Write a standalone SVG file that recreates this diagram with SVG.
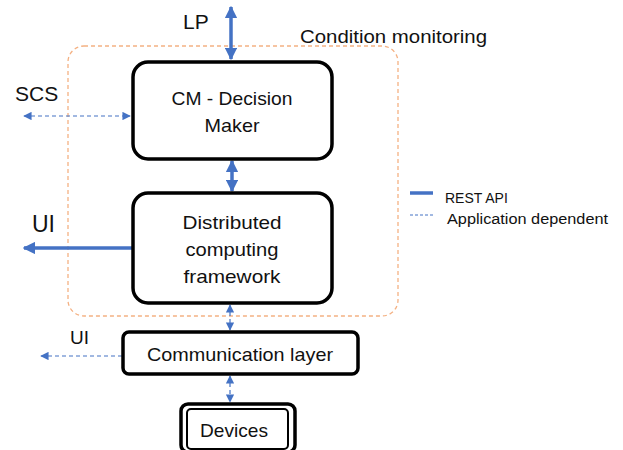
<svg xmlns="http://www.w3.org/2000/svg" width="623" height="450" viewBox="0 0 623 450">
  <style>
    text { font-family: "Liberation Sans", Arial, sans-serif; fill: #111; }
    .box { fill: #fff; stroke: #000; stroke-width: 3.5; }
    .lbl { font-size: 19px; text-anchor: middle; }
    .rest { stroke: #4472C4; stroke-width: 3.5; fill: none; }
    .app { stroke: #4472C4; stroke-width: 1.2; stroke-dasharray: 4 3; fill: none; }
    .group { fill: none; stroke: #F4B183; stroke-width: 1.3; stroke-dasharray: 4 3; }
  </style>
  <defs>
    <marker id="headBig" viewBox="0 0 10 10" refX="9" refY="5" markerWidth="3.6" markerHeight="3.6" orient="auto-start-reverse" markerUnits="strokeWidth">
      <path d="M0,0 L10,5 L0,10 z" fill="#4472C4"/>
    </marker>
    <marker id="headSmall" viewBox="0 0 10 10" refX="9" refY="5" markerWidth="7" markerHeight="7" orient="auto-start-reverse" markerUnits="strokeWidth">
      <path d="M0,0 L10,5 L0,10 z" fill="#4472C4"/>
    </marker>
  </defs>

  <!-- Condition monitoring boundary -->
  <g id="condition-monitoring">
    <rect class="group" x="68" y="46" width="330" height="270" rx="16"/>
    <text x="300" y="43" font-size="18" textLength="187" lengthAdjust="spacingAndGlyphs">Condition monitoring</text>
  </g>

  <!-- Connectors -->
  <g id="connectors">
    <line class="rest" x1="231" y1="7" x2="231" y2="59" marker-start="url(#headBig)" marker-end="url(#headBig)"/>
    <line class="rest" x1="232" y1="161" x2="232" y2="191" marker-start="url(#headBig)" marker-end="url(#headBig)"/>
    <line class="rest" x1="132" y1="248" x2="24" y2="248" marker-end="url(#headBig)"/>
    <line class="app" x1="24" y1="116" x2="130" y2="116" marker-start="url(#headSmall)" marker-end="url(#headSmall)"/>
    <line class="app" x1="230" y1="305" x2="230" y2="330" marker-start="url(#headSmall)" marker-end="url(#headSmall)"/>
    <line class="app" x1="230" y1="376" x2="230" y2="402" marker-start="url(#headSmall)" marker-end="url(#headSmall)"/>
    <line class="app" x1="122" y1="356" x2="41" y2="356" marker-end="url(#headSmall)"/>
  </g>

  <!-- External labels -->
  <g id="label-lp"><text x="183" y="29" font-size="21">LP</text></g>
  <g id="label-scs"><text x="15" y="101" font-size="21">SCS</text></g>
  <g id="label-ui-rest"><text x="32" y="232" font-size="23">UI</text></g>
  <g id="label-ui-app"><text x="70" y="344" font-size="19">UI</text></g>

  <!-- Nodes -->
  <g id="cm-decision-maker">
    <rect class="box" x="133" y="62" width="199" height="97" rx="15"/>
    <text class="lbl" x="232" y="105" textLength="121" lengthAdjust="spacingAndGlyphs">CM - Decision</text>
    <text class="lbl" x="232" y="132" textLength="55" lengthAdjust="spacingAndGlyphs">Maker</text>
  </g>

  <g id="distributed-computing">
    <rect class="box" x="133" y="193" width="199" height="110" rx="15"/>
    <text class="lbl" x="232" y="229" textLength="99" lengthAdjust="spacingAndGlyphs">Distributed</text>
    <text class="lbl" x="232" y="256" textLength="93" lengthAdjust="spacingAndGlyphs">computing</text>
    <text class="lbl" x="232" y="283" textLength="97" lengthAdjust="spacingAndGlyphs">framework</text>
  </g>

  <g id="communication-layer">
    <rect class="box" x="123" y="332" width="235" height="42" rx="6"/>
    <text class="lbl" x="240" y="361" textLength="186" lengthAdjust="spacingAndGlyphs">Communication layer</text>
  </g>

  <g id="devices">
    <rect x="181" y="404" width="114" height="48" rx="7" fill="#fff" stroke="#000" stroke-width="3.5"/>
    <rect x="187" y="409" width="101" height="40" rx="4" fill="#fff" stroke="#000" stroke-width="2"/>
    <text class="lbl" x="234" y="437" textLength="68" lengthAdjust="spacingAndGlyphs">Devices</text>
  </g>

  <!-- Legend -->
  <g id="legend">
    <line x1="410" y1="193" x2="433" y2="193" stroke="#4472C4" stroke-width="3.5"/>
    <text x="445" y="203" font-size="14">REST API</text>
    <line x1="410" y1="215" x2="435" y2="215" stroke="#4472C4" stroke-width="1" stroke-dasharray="3 2"/>
    <text x="447" y="224" font-size="14" textLength="161" lengthAdjust="spacingAndGlyphs">Application dependent</text>
  </g>
</svg>
